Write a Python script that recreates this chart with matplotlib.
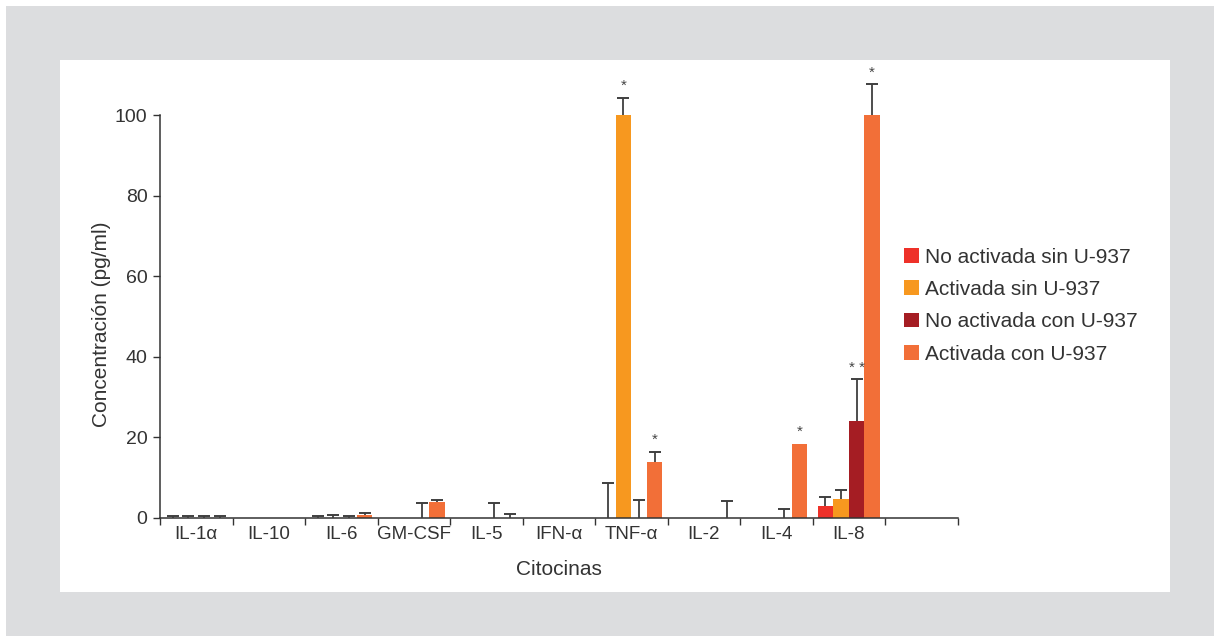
"""Concentración de citocinas por condición (barras agrupadas con error)."""
import numpy as np
import matplotlib
matplotlib.use("Agg")
import matplotlib.pyplot as plt
from matplotlib.patches import Rectangle

plt.rcParams["font.family"] = ["Liberation Sans", "DejaVu Sans"]

# ---------------------------------------------------------------------
# Data
# ---------------------------------------------------------------------
CATEGORIES = ["IL-1α", "IL-10", "IL-6", "GM-CSF", "IL-5", "IFN-α",
              "TNF-α", "IL-2", "IL-4", "IL-8", ""]
SERIES = ["No activada sin U-937", "Activada sin U-937",
          "No activada con U-937", "Activada con U-937"]
COLORS = ["#ee3129", "#f7981f", "#a51d23", "#f26f38"]

no_act_sin = [0, 0, 0, 0, 0, 0, 0, 0, 0, 3.0, 0]
act_sin = [0, 0, 0, 0, 0, 0, 100, 0, 0, 4.6, 0]
no_act_con = [0, 0, 0, 0, 0, 0, 0, 0, 0, 24.1, 0]
act_con = [0, 0, 0.8, 4.0, 0, 0, 13.9, 0, 18.4, 100, 0]

err_no_act_sin = [0.4, 0, 0.6, 0, 0, 0, 8.8, 0, 0, 2.1, 0]
err_act_sin = [0.4, 0, 0.8, 0, 0, 0, 4.3, 0, 0, 2.4, 0]
err_no_act_con = [0.4, 0, 0.6, 3.8, 3.8, 0, 4.5, 0, 2.3, 10.3, 0]
err_act_con = [0.4, 0, 0.4, 0.4, 1.1, 0, 2.5, 4.3, 0, 7.6, 0]

# significance marks: (category index, series index, label)
STARS = [(6, 1, "*"), (6, 3, "*"), (8, 3, "*"), (9, 2, "* *"), (9, 3, "*")]

values = [no_act_sin, act_sin, no_act_con, act_con]
errors = [err_no_act_sin, err_act_sin, err_no_act_con, err_act_con]

# ---------------------------------------------------------------------
# Figure
# ---------------------------------------------------------------------
W, H = 1220, 642
fig = plt.figure(figsize=(W / 100, H / 100), dpi=100)
fig.patch.set_facecolor("white")
fig.patches.append(Rectangle((6 / W, 6 / H), 1208 / W, 630 / H,
                             transform=fig.transFigure, facecolor="#dcdddf",
                             edgecolor="none", zorder=-2))
fig.patches.append(Rectangle((60 / W, 50 / H), 1110 / W, 532 / H,
                             transform=fig.transFigure, facecolor="white",
                             edgecolor="none", zorder=-1))

ax = fig.add_axes([160 / W, (H - 518) / H, 797.5 / W, 403 / H])
ax.set_facecolor("none")

x = np.arange(len(CATEGORIES))
width = 0.214
offsets = (np.arange(4) - 1.5) * width
text_color = "#333333"
err_color = "#3f3f3f"

for vals, errs, col, off, lab in zip(values, errors, COLORS, offsets, SERIES):
    vals = np.array(vals, dtype=float)
    errs = np.array(errs, dtype=float)
    ax.bar(x + off, vals, width, color=col, label=lab, clip_on=False, zorder=2)
    # upper error bars only: stem + top cap
    mask = errs > 0
    xs = x[mask] + off
    ax.vlines(xs, vals[mask], vals[mask] + errs[mask], color=err_color,
              linewidth=1.3, clip_on=False, zorder=3)
    ax.plot(xs, vals[mask] + errs[mask], linestyle="none", marker="_",
            markersize=8, markeredgewidth=1.4, color=err_color,
            clip_on=False, zorder=3)

for ci, si, lab in STARS:
    top = values[si][ci] + errors[si][ci]
    ax.text(x[ci] + offsets[si], top + 1.2, lab, ha="center", va="bottom",
            fontsize=11, color="#444444")

ax.set_xlim(-0.5, len(CATEGORIES) - 0.5)
ax.set_ylim(0, 100)
ax.set_yticks([0, 20, 40, 60, 80, 100])
ax.set_xticks(x)
ax.set_xticklabels(CATEGORIES)
ax.set_xticks(np.arange(len(CATEGORIES) + 1) - 0.5, minor=True)
ax.tick_params(axis="x", which="major", length=0, pad=6, labelsize=13.5,
               labelcolor=text_color)
ax.tick_params(axis="x", which="minor", length=5, width=1, color="#333333")
ax.tick_params(axis="y", length=5, width=1, color="#333333", labelsize=14,
               labelcolor=text_color, pad=4)

for side in ("top", "right"):
    ax.spines[side].set_visible(False)
for side in ("left", "bottom"):
    ax.spines[side].set_color("#333333")
    ax.spines[side].set_linewidth(1.1)

ax.set_xlabel("Citocinas", fontsize=15, color=text_color, labelpad=12)
ax.set_ylabel("Concentración (pg/ml)", fontsize=15, color=text_color,
              labelpad=12)
ax.yaxis.set_label_coords(-0.062, 0.48)

ax.legend(loc="center left", bbox_to_anchor=(0.91, 0.527), frameon=False,
          fontsize=15, handlelength=0.7, handleheight=0.7,
          handletextpad=0.3, labelspacing=0.64, labelcolor=text_color)

fig.savefig("out.png", dpi=100)
